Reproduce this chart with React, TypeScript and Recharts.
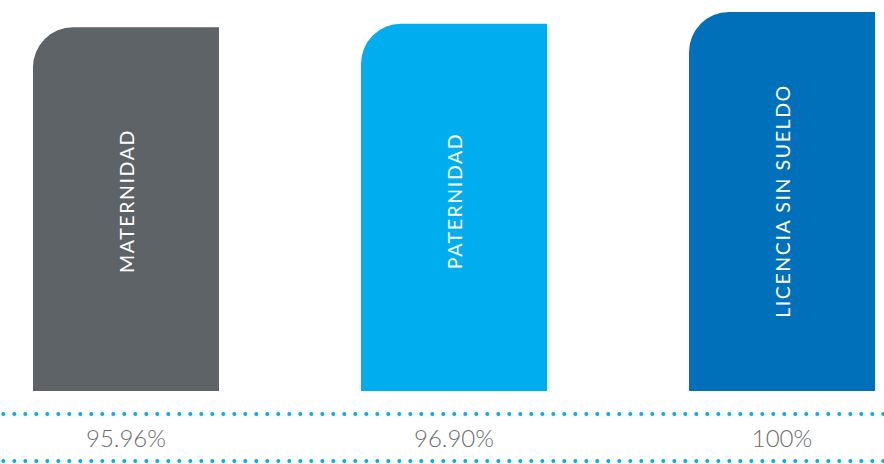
import React from "react";
import { BarChart, Bar, XAxis, YAxis, Cell, LabelList } from "recharts";

const categories = ["MATERNIDAD", "PATERNIDAD", "LICENCIA SIN SUELDO"];
const values = [95.96, 96.9, 100];
const valueLabels = ["95.96%", "96.90%", "100%"];
const colors = ["#5e6368", "#00aeef", "#0070ba"];

const data = categories.map((name, i) => ({ name, value: values[i], label: valueLabels[i] }));

const dotted = {
  stroke: "#00aeef",
  strokeWidth: 4,
  strokeDasharray: "0 11",
  strokeLinecap: "round" as const,
  strokeDashoffset: 2.7,
};

// eslint-disable-next-line @typescript-eslint/no-explicit-any
const BarName = (props: any) => {
  const { x, y, width, height, value } = props;
  const cx = x + width / 2;
  const cy = y + height - 190;
  return (
    <text
      x={cx}
      y={cy}
      transform={`rotate(-90 ${cx} ${cy})`}
      textAnchor="middle"
      dominantBaseline="central"
      fill="#ffffff"
      fontFamily="Lato, 'Open Sans', sans-serif"
      fontSize={19.5}
      letterSpacing={1.6}
    >
      {value}
    </text>
  );
};

// eslint-disable-next-line @typescript-eslint/no-explicit-any
const PercentTick = (props: any) => {
  const { x, y, payload } = props;
  const i = categories.indexOf(payload.value);
  return (
    <text
      x={x}
      y={y + 33}
      textAnchor="middle"
      fill="#6a6c70"
      fontFamily="Lato, 'Open Sans', sans-serif"
      fontWeight={300}
      fontSize={24}
    >
      {valueLabels[i]}
    </text>
  );
};

export default function App() {
  return (
    <div style={{ position: "absolute", left: 0, top: 0, width: 884, height: 464, overflow: "hidden", background: "#fff" }}>
      <div style={{ marginLeft: -38 }}>
        <BarChart width={984} height={464} data={data} margin={{ top: 12, right: 0, bottom: 0, left: 0 }}>
          <YAxis hide domain={[0, 100]} />
          <XAxis xAxisId="a_gap" dataKey="name" height={23} axisLine={false} tickLine={false} tick={false} />
          <XAxis
            xAxisId="b_labels"
            dataKey="name"
            height={47}
            axisLine={dotted}
            tickLine={false}
            tickSize={0}
            tickMargin={0}
            tick={<PercentTick />}
            interval={0}
          />
          <XAxis xAxisId="c_base" dataKey="name" height={3} axisLine={dotted} tickLine={false} tick={false} />
          <Bar xAxisId="a_gap" dataKey="value" barSize={186} radius={[40, 0, 0, 0]} isAnimationActive={false}>
            {data.map((_, index) => (
              <Cell key={`cell-${index}`} fill={colors[index]} />
            ))}
            <LabelList dataKey="name" content={<BarName />} />
          </Bar>
        </BarChart>
      </div>
    </div>
  );
}
